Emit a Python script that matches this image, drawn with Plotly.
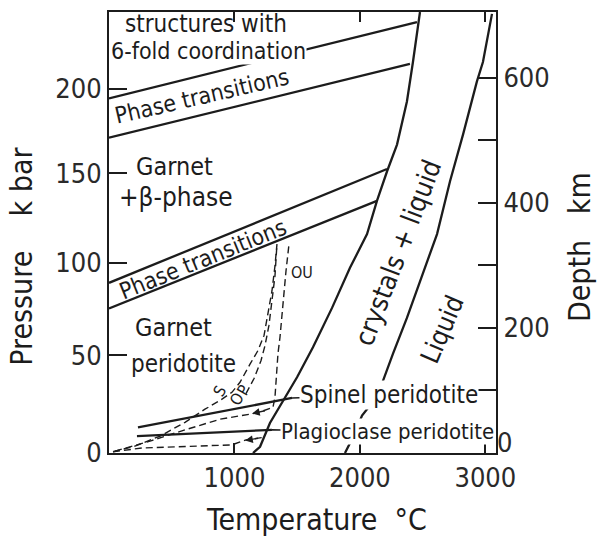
import plotly.graph_objects as go

# ---------------- data (temperature in deg C, depth in km) ----------------
solidus_T = [1148, 1204, 1283, 1403, 1499, 1626, 1778, 1921, 2057, 2136, 2216, 2296, 2375, 2423, 2479]
solidus_D = [0, 10, 48, 89, 121, 169, 232, 296, 350, 403, 450, 493, 562, 625, 705]

liquidus_T = [1881, 1945, 2017, 2081, 2176, 2264, 2375, 2503, 2615, 2718, 2822, 2933, 2981, 3053]
liquidus_D = [0, 25, 60, 76, 111, 159, 216, 286, 350, 434, 509, 594, 625, 702]

upper_band_top_T = [0, 2455]
upper_band_top_D = [567, 689]
upper_band_bottom_T = [0, 2399]
upper_band_bottom_D = [504, 622]
lower_band_top_T = [0, 2216]
lower_band_top_D = [272, 454]
lower_band_bottom_T = [0, 2136]
lower_band_bottom_D = [231, 403]

spinel_T = [231, 1459]
spinel_D = [41, 88]
plag_T = [223, 1299]
plag_D = [27, 37]

geotherm_S_T = [32, 207, 407, 606, 765, 885, 980, 1044, 1124, 1188, 1236, 1267, 1299, 1323, 1339]
geotherm_S_D = [2, 11, 27, 49, 70, 84, 97, 113, 142, 164, 188, 223, 259, 299, 334]
geotherm_O_T = [48, 327, 606, 885, 1180, 1307, 1323, 1339, 1347, 1363, 1387, 1411, 1435]
geotherm_O_D = [3, 19, 37, 54, 64, 73, 89, 132, 159, 185, 243, 291, 334]
geotherm_P_T = [1092, 1156, 1212, 1244, 1275, 1299, 1323, 1339]
geotherm_P_D = [95, 119, 148, 172, 204, 240, 283, 334]
geotherm_B_T = [32, 263, 980, 1092, 1230]
geotherm_B_D = [2, 8, 13, 21, 25]

temp_ticks = [1000, 2000, 3000]
temp_labels = ["1000", "2000", "3000"]
pressure_labels = ["0", "50", "100", "150", "200"]
pressure_tick_depth_km = [0, 156, 304, 447, 582]
depth_ticks = [0, 100, 200, 300, 400, 500, 600]
depth_labels = ["", "", "200", "", "400", "", "600"]
depth_zero_label_pos = [16]
depth_zero_label = ["0"]

# ---------------- figure ----------------
INK = "#1c1c1c"
FONT = "DejaVu Sans Condensed, Roboto, sans-serif"

fig = go.Figure()

def solid(x, y, w=2.3, yaxis="y"):
    fig.add_trace(go.Scatter(x=x, y=y, mode="lines", yaxis=yaxis,
                             line=dict(color=INK, width=w), hoverinfo="skip"))

def dashed(x, y, yaxis="y"):
    fig.add_trace(go.Scatter(x=x, y=y, mode="lines", yaxis=yaxis,
                             line=dict(color=INK, width=1.4, dash="7px,4px"),
                             hoverinfo="skip"))

solid(solidus_T, solidus_D)
solid(liquidus_T, liquidus_D, yaxis="y2")
solid(upper_band_top_T, upper_band_top_D)
solid(upper_band_bottom_T, upper_band_bottom_D)
solid(lower_band_top_T, lower_band_top_D)
solid(lower_band_bottom_T, lower_band_bottom_D)
solid(spinel_T, spinel_D)
solid(plag_T, plag_D)
dashed(geotherm_S_T, geotherm_S_D)
dashed(geotherm_O_T, geotherm_O_D)
dashed(geotherm_P_T, geotherm_P_D)
dashed(geotherm_B_T, geotherm_B_D, yaxis="y3")

ann = []

def label(text, T, D, size=23, angle=0, bg=None):
    d = dict(text=text, x=T, y=D, xref="x", yref="y", showarrow=False,
             textangle=angle, font=dict(family=FONT, size=size, color=INK))
    if bg:
        d["bgcolor"] = bg
        d["borderpad"] = 0
    ann.append(d)

label("structures with", 773, 686, size=24)
label("6-fold coordination", 797, 642, size=23, bg="white")
label("Phase transitions", 741, 571, size=23, angle=-13)
label("Garnet", 526, 458, size=25)
label("+β-phase", 534, 409, size=26)
label("Phase transitions", 749, 310, size=23, angle=-22)
label("Garnet", 518, 200, size=25)
label("peridotite", 590, 143, size=24)
label("OU", 1538, 288, size=16)
label("crystals + liquid", 2304, 320, size=27, angle=-69)
label("Liquid", 2654, 199, size=26, angle=-67)
label("S", 880, 99, size=16, angle=-60)
label("O", 1016, 86, size=16, angle=-60)
label("P", 1076, 101, size=16, angle=-60)

# labels with leader lines
for text, T, D, hx, hy, sz in [("Spinel peridotite", 2232, 92, 1459, 88, 24),
                               ("Plagioclase peridotite", 2220, 35, 1299, 37, 22)]:
    ann.append(dict(text=text, x=hx, y=hy, xref="x", yref="y",
                    ax=T, ay=D, axref="x", ayref="y",
                    showarrow=True, arrowhead=0, arrowwidth=1.6, arrowcolor=INK,
                    standoff=0, bgcolor="white", borderpad=0,
                    font=dict(family=FONT, size=sz, color=INK)))

# direction arrows on geotherms
for hx, hy, tx, ty in [(1140, 63, 1255, 68), (1085, 20, 1200, 24)]:
    ann.append(dict(text="", x=hx, y=hy, xref="x", yref="y",
                    ax=tx, ay=ty, axref="x", ayref="y",
                    showarrow=True, arrowhead=2, arrowsize=1.1, arrowwidth=1.4,
                    arrowcolor=INK))

# axis titles
title_font = dict(family=FONT, size=30, color=INK)
ann.append(dict(text="Pressure    k bar", x=-0.225, y=0.447, xref="paper", yref="paper",
                xanchor="center", yanchor="middle",
                showarrow=False, textangle=-90, font=title_font))
ann.append(dict(text="Depth   km", x=1.2145, y=0.467, xref="paper", yref="paper",
                xanchor="center", yanchor="middle",
                showarrow=False, textangle=-90, font=title_font))
ann.append(dict(text="Temperature  °C", x=0.535, y=-0.151, xref="paper", yref="paper",
                xanchor="center", yanchor="middle",
                showarrow=False, font=title_font))

axis_common = dict(showgrid=False, zeroline=False, showline=True, linecolor=INK,
                   linewidth=2, ticks="inside", tickcolor=INK, tickwidth=1.6,
                   tickfont=dict(family=FONT, size=27, color="#2a2a2a"))

fig.update_layout(
    width=597, height=539,
    margin=dict(l=109, r=101, t=10, b=86),
    paper_bgcolor="white", plot_bgcolor="white",
    showlegend=False,
    annotations=ann,
    xaxis=dict(range=[0, 3085], tickvals=temp_ticks, ticktext=temp_labels,
               ticklen=10, mirror="ticks", **axis_common),
    yaxis=dict(range=[0, 705], tickvals=pressure_tick_depth_km, ticktext=pressure_labels,
               ticklen=18, **axis_common),
    yaxis2=dict(range=[0, 705], overlaying="y", side="right",
                tickvals=depth_ticks, ticktext=depth_labels, ticklen=18, **axis_common),
    yaxis3=dict(range=[0, 705], overlaying="y", side="right", showgrid=False,
                zeroline=False, showline=False, ticks="",
                tickvals=depth_zero_label_pos, ticktext=depth_zero_label,
                tickfont=dict(family=FONT, size=27, color="#2a2a2a")),
)

fig.write_html("out.html")
